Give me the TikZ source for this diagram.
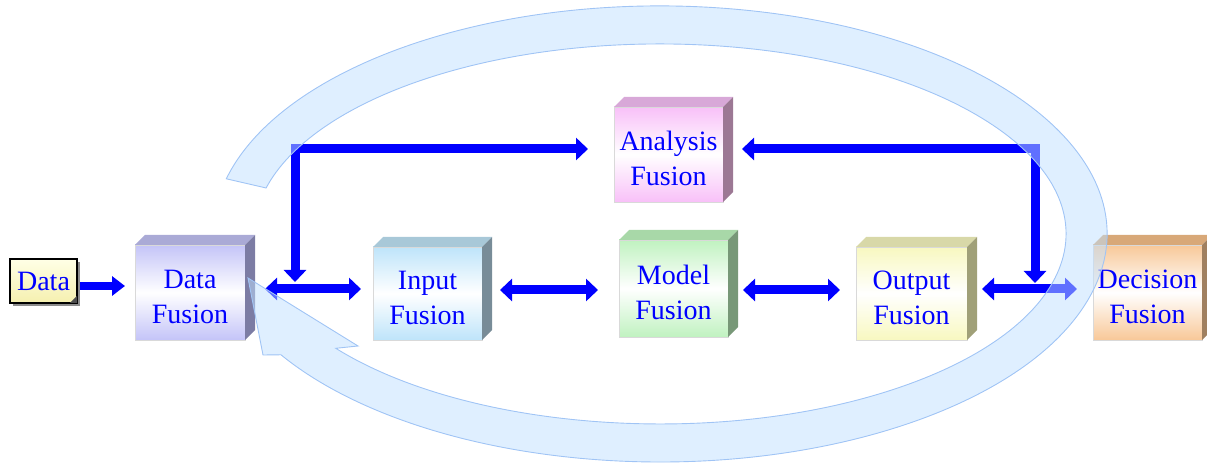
\documentclass[tikz,border=0pt]{standalone}
\usepackage{fontspec}
\setmainfont{Liberation Serif}
\usetikzlibrary{arrows.meta,shadows}
\definecolor{fblue}{RGB}{0,0,255}
\definecolor{dfF}{RGB}{196,196,248}\definecolor{dfT}{RGB}{170,170,214}\definecolor{dfS}{RGB}{124,124,164}
\definecolor{inF}{RGB}{190,228,250}\definecolor{inT}{RGB}{168,200,216}\definecolor{inS}{RGB}{120,140,152}
\definecolor{moF}{RGB}{192,242,192}\definecolor{moT}{RGB}{168,216,168}\definecolor{moS}{RGB}{120,152,120}
\definecolor{anF}{RGB}{248,192,248}\definecolor{anT}{RGB}{216,168,216}\definecolor{anS}{RGB}{156,120,148}
\definecolor{ouF}{RGB}{248,248,192}\definecolor{ouT}{RGB}{216,216,168}\definecolor{ouS}{RGB}{160,160,120}
\definecolor{deF}{RGB}{248,200,152}\definecolor{deT}{RGB}{216,168,120}\definecolor{deS}{RGB}{160,128,96}
\definecolor{ringfill}{RGB}{192,224,255}
\definecolor{ringline}{RGB}{160,196,245}
\definecolor{noteT}{RGB}{255,255,230}\definecolor{noteB}{RGB}{245,240,175}
\newcommand\dropstrut{\rule{0pt}{28pt}}
\begin{document}
\begin{tikzpicture}[x=1pt,y=1pt,
  cube/.style={draw=black!15, line width=0.8pt, inner sep=0pt, outer sep=0pt,
    top color=#1, bottom color=#1, middle color=white,
    font=\fontsize{28}{35}\selectfont, text=fblue, align=center},
  note/.style={draw=black, line width=1.6pt, inner sep=0pt, outer sep=0pt,
    top color=noteT, bottom color=noteB,
    drop shadow={shadow xshift=3pt, shadow yshift=-3pt, fill=black!45, opacity=1},
    font=\fontsize{28}{35}\selectfont, text=fblue, minimum width=67pt, minimum height=44pt},
  darr/.style={draw=fblue, line width=9pt, line join=miter,
    {Triangle[width=22pt,length=12pt]}-{Triangle[width=22pt,length=12pt]}},
  sarr/.style={draw=fblue, line width=8pt, -{Triangle[width=19pt,length=13pt]}},
  ring/.style={fill=ringfill, fill opacity=0.5, draw=ringline, line width=0.9pt, line join=miter}
]
\useasboundingbox (0,0) rectangle (1207,463);
\clip (0,0) rectangle (1207,463);

% boxes
\node[note] (data) at (43.5,182) {Data};
\fill[black!70] (data.south east) -- ++(-7,0) -- ++(7,7) -- cycle;

\node[cube=dfF, minimum width=110pt, minimum height=95pt] (df) at (190,170.5) {\dropstrut Data\\Fusion};
\node[cube=anF, minimum width=109pt, minimum height=95pt] (an) at (668.5,308.5) {\dropstrut Analysis\\Fusion};
\node[cube=inF, minimum width=109pt, minimum height=93pt] (in) at (427.5,169.5) {\dropstrut Input\\Fusion};
\node[cube=moF, minimum width=109pt, minimum height=97pt] (mo) at (673.5,174.5) {\dropstrut Model\\Fusion};
\node[cube=ouF, minimum width=111pt, minimum height=93pt] (ou) at (911.5,169.5) {\dropstrut Output\\Fusion};
\node[cube=deF, minimum width=109pt, minimum height=95pt] (de) at (1147.5,170.5) {\dropstrut Decision\\Fusion};

\foreach \n/\t/\s in {df/dfT/dfS, an/anT/anS, in/inT/inS, mo/moT/moS, ou/ouT/ouS, de/deT/deS}{
  \fill[\t] (\n.north west) -- (\n.north east) -- ++(10,10) -- ([shift={(10,10)}]\n.north west) -- cycle;
  \fill[\s] (\n.north east) -- ++(10,10) -- ([shift={(10,10)}]\n.south east) -- (\n.south east) -- cycle;
}

% connectors
\draw[sarr] ([shift={(3,-5)}]data.east) -- ([shift={(-10,6.5)}]df.west);
\draw[darr] ([shift={(20,3.5)}]df.east) -- ([shift={(-12,4.5)}]in.west);
\draw[darr] ([shift={(18,3.5)}]in.east) -- ([shift={(-21,-1.5)}]mo.west);
\draw[darr] ([shift={(15,-1.5)}]mo.east) -- ([shift={(-16,3.5)}]ou.west);
\draw[darr] ([shift={(15,4.5)}]ou.east) -- ([shift={(-16,3.5)}]de.west);

\coordinate (j1) at (295,181);
\coordinate (j2) at (1035,180);
\draw[darr] (j1) |- ([shift={(-26,5.5)}]an.west);
\draw[darr] (j2) |- ([shift={(19,5.5)}]an.east);

% big circular arrow
\path[ring] (226.3,284.2) arc[start angle=166, end angle=-148, x radius=447, y radius=228]
  -- (263,108) -- (248,185) -- (358,117) -- (335.8,114.7)
  arc[start angle=-143, end angle=166, x radius=406, y radius=190] -- cycle;
\end{tikzpicture}
\end{document}
